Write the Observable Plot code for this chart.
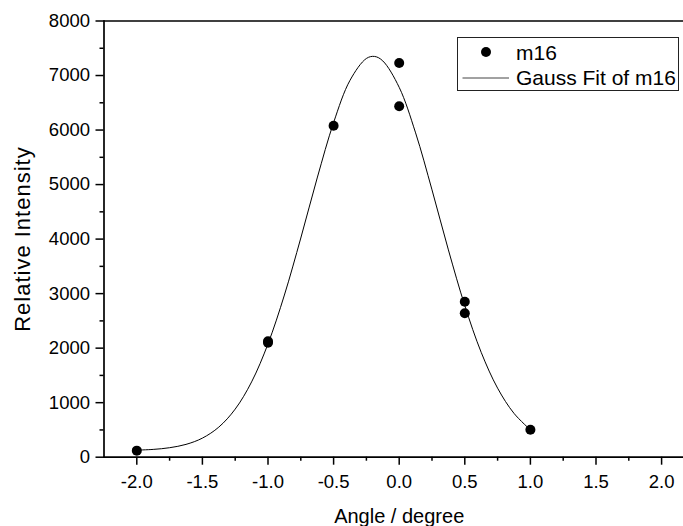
<!DOCTYPE html>
<html><head><meta charset="utf-8">
<script src="https://cdn.jsdelivr.net/npm/d3@7"></script>
<script src="https://cdn.jsdelivr.net/npm/@observablehq/plot@0.6"></script>
<style>
html,body{margin:0;padding:0;background:#fff;overflow:hidden;}
#wrap{position:relative;width:683px;height:526px;overflow:hidden;}
#legend{position:absolute;left:457px;top:37px;}
</style></head><body><div id="wrap"></div>
<script>
// measured data (m16)
const angle = [-2.0, -1.0, -1.0, -0.5, 0.0, 0.0, 0.5, 0.5, 1.0];
const intensity = [120, 2100, 2125, 6080, 7230, 6435, 2850, 2640, 502];
// Gauss fit curve
const fitAngle = [-2.0, -1.875, -1.75, -1.625, -1.5, -1.375, -1.25, -1.125, -1.0, -0.875, -0.75, -0.625, -0.5, -0.375, -0.25, -0.1875, -0.125, 0.0, 0.125, 0.25, 0.375, 0.5, 0.625, 0.75, 0.875, 1.0];
const fitIntensity = [130, 143, 174, 235, 350, 552, 882, 1381, 2079, 2974, 4020, 5121, 6137, 6912, 7313, 7350, 7268, 6783, 5948, 4903, 3802, 2780, 1923, 1266, 804, 502];
const xTicks = [-2.0, -1.5, -1.0, -0.5, 0.0, 0.5, 1.0, 1.5, 2.0];
const xMinor = [-1.75, -1.25, -0.75, -0.25, 0.25, 0.75, 1.25, 1.75];
const yTicks = [0, 1000, 2000, 3000, 4000, 5000, 6000, 7000, 8000];
const yMinor = [500, 1500, 2500, 3500, 4500, 5500, 6500, 7500];
const xDomain = [-2.25, 2.25];
const yDomain = [0, 8000];
const seriesNames = ["m16", "Gauss Fit of m16"];
const xTitle = "Angle / degree";
const yTitle = "Relative Intensity";

const points = angle.map((a, i) => ({a, v: intensity[i]}));
const fit = fitAngle.map((a, i) => ({a, v: fitIntensity[i]}));

const font = "'Liberation Sans', Arial, sans-serif";
const chart = Plot.plot({
  width: 683, height: 526,
  marginLeft: 103.5, marginRight: -10.9, marginTop: 20.5, marginBottom: 69.3,
  style: {fontFamily: font, fontSize: "18px", color: "#000", background: "#fff", overflow: "hidden"},
  x: {domain: xDomain},
  y: {domain: yDomain},
  marks: [
    Plot.axisX(xTicks, {tickSize: 8, tickPadding: 10, tickFormat: d => d.toFixed(1), label: null, strokeWidth: 1.5, fontSize: 18.5}),
    Plot.axisX(xMinor, {tickSize: 4, tickFormat: () => "", label: null, strokeWidth: 1.5}),
    Plot.axisY(yTicks, {tickSize: 8, tickPadding: 6, tickFormat: d => String(d), label: null, strokeWidth: 1.5, fontSize: 18.5}),
    Plot.axisY(yMinor, {tickSize: 4, tickFormat: () => "", label: null, strokeWidth: 1.5}),
    Plot.frame({anchor: "left", strokeWidth: 1.7}),
    Plot.frame({anchor: "bottom", strokeWidth: 1.7}),
    Plot.frame({anchor: "top", strokeWidth: 1.7}),
    Plot.line(fit, {x: "a", y: "v", curve: "catmull-rom", stroke: "#000", strokeWidth: 1}),
    Plot.dot(points, {x: "a", y: "v", r: 5, fill: "#000", stroke: "none"}),
    Plot.text([xTitle], {frameAnchor: "bottom", textAnchor: "middle", lineAnchor: "middle", dy: 59, fontSize: 20, fill: "#000"}),
    Plot.text([yTitle], {frameAnchor: "left", textAnchor: "middle", lineAnchor: "middle", rotate: -90, dx: -81, fontSize: 22, fill: "#000", className: "ytitle"})
  ]
});
d3.select(chart).selectAll(".ytitle text").style("letter-spacing", "1px");
const wrap = document.getElementById("wrap");
wrap.appendChild(chart);

// legend
const lg = d3.select(wrap).append("svg").attr("id", "legend")
  .attr("width", 222).attr("height", 54)
  .style("font-family", font);
lg.append("rect").attr("x", 0.5).attr("y", 0.5).attr("width", 221).attr("height", 53)
  .attr("fill", "#fff").attr("stroke", "#222").attr("stroke-width", 1);
lg.append("circle").attr("cx", 29).attr("cy", 15).attr("r", 5).attr("fill", "#000");
lg.append("line").attr("x1", 5.5).attr("x2", 52).attr("y1", 41).attr("y2", 41)
  .attr("stroke", "#444").attr("stroke-width", 1);
lg.append("text").attr("x", 59).attr("y", 23).attr("font-size", 21).text(seriesNames[0]);
lg.append("text").attr("x", 59).attr("y", 48).attr("font-size", 21).text(seriesNames[1]);
</script></body></html>
